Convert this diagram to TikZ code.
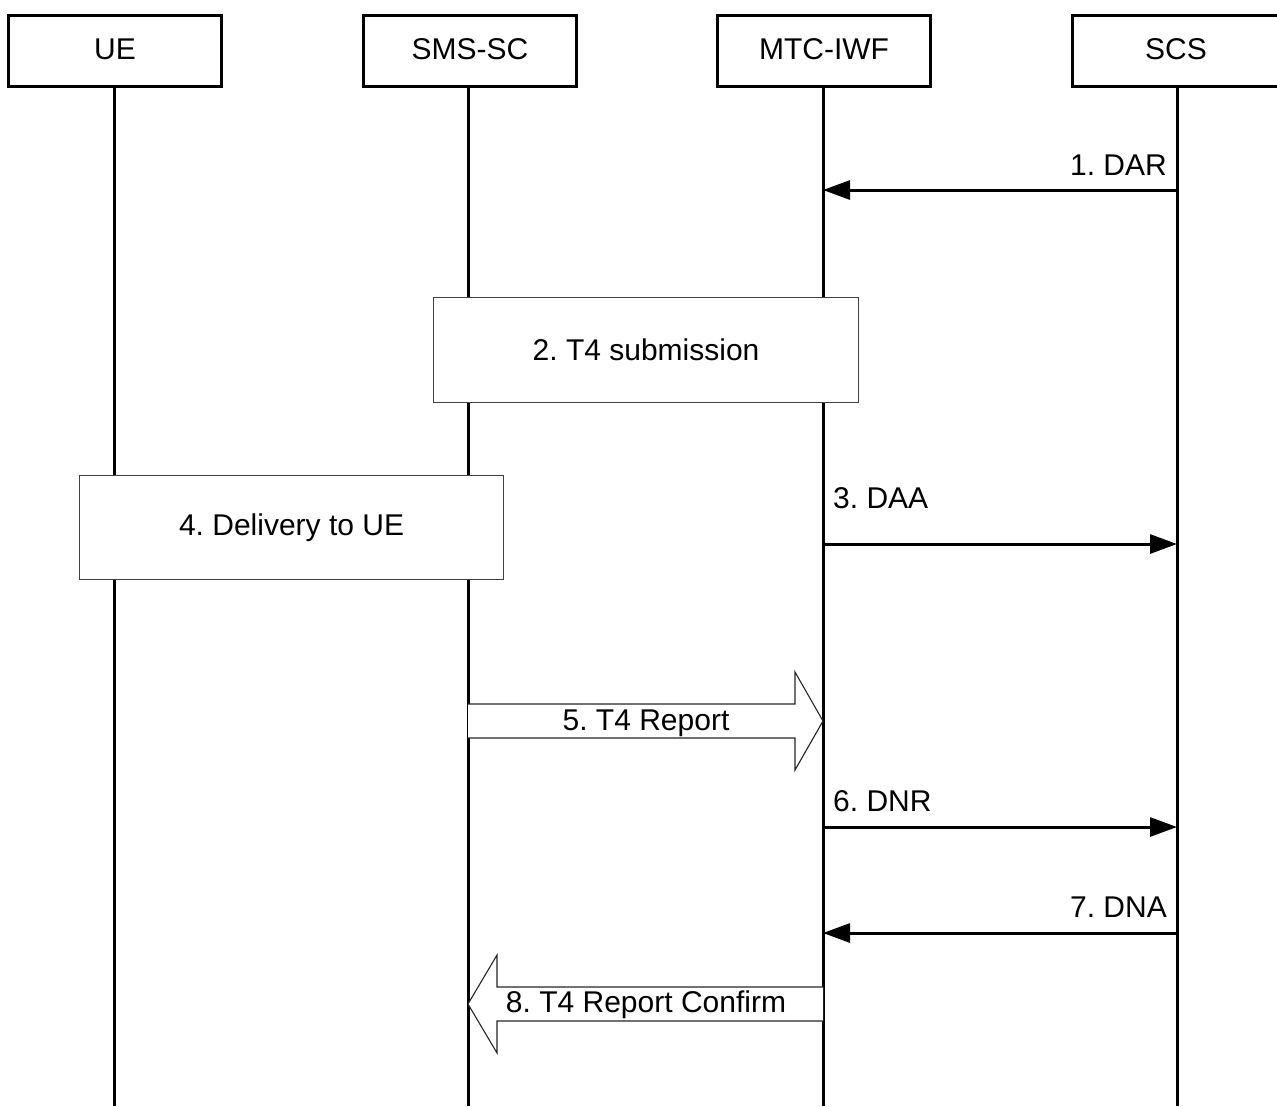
\documentclass[tikz,border=0pt]{standalone}
\usepackage{fontspec}
\setmainfont{Liberation Sans}
\usetikzlibrary{arrows.meta}
\begin{document}
\frenchspacing
\begin{tikzpicture}[x=1pt,y=-1pt,
  every node/.style={font=\fontsize{30}{36}\selectfont, inner sep=0pt},
  header/.style={draw, line width=3pt, minimum width=213pt, minimum height=71pt, anchor=north west, text depth=3pt},
  lifeline/.style={line width=3pt},
  proc/.style={draw=black!75, line width=1.1pt, fill=white, anchor=north west},
  msg/.style={line width=3pt, -{Triangle[length=27pt,width=19pt]}},
  blockarrow/.style={draw=black!85, line width=1.1pt, fill=white, line join=miter}]
\useasboundingbox (0,0) rectangle (1277,1106);
% headers
\node[header] (ue) at (7,14) {UE};
\node[header] (sms) at (362,14) {SMS-SC};
\node[header] (mtc) at (716,14) {MTC-IWF};
\node[header, minimum width=207pt] (scs) at (1071,14) {SCS};
% lifeline bottoms
\coordinate (ueb) at (114,1106);
\coordinate (smsb) at (468,1106);
\coordinate (mtcb) at (823,1106);
\coordinate (scsb) at (1177,1106);
\draw[lifeline] (ue.south -| ueb) -- (ueb);
\draw[lifeline] (sms.south -| smsb) -- (smsb);
\draw[lifeline] (mtc.south -| mtcb) -- (mtcb);
\draw[lifeline] (scs.south -| scsb) -- (scsb);
% message points
\coordinate (m1s) at (1177,190); \coordinate (m1e) at (823,190);
\coordinate (m3s) at (823,544); \coordinate (m3e) at (1177,544);
\coordinate (m6s) at (823,827); \coordinate (m6e) at (1177,827);
\coordinate (m7s) at (1177,933); \coordinate (m7e) at (823,933);
% 1. DAR
\draw[msg] (m1s) -- (m1e);
\node[anchor=base east] (l1) at (1167,175) {1. DAR};
% 2. T4 submission
\node[proc, minimum width=425pt, minimum height=105pt] (p2) at (433,297) {2. T4 submission};
% 3. DAA
\draw[msg] (m3s) -- (m3e);
\node[anchor=base west] (l3) at (833,508) {3. DAA};
% 4. Delivery to UE
\node[proc, minimum width=424pt, minimum height=104pt] (p4) at (79,475) {4. Delivery to UE};
% 5. T4 Report
\coordinate (b5s) at (468,721); \coordinate (b5e) at (823,721);
\draw[blockarrow] (468,704) -- (795,704) -- (795,672) -- (b5e) -- (795,770) -- (795,738) -- (468,738);
\node (l5) at (646,723) {5. T4 Report};
% 6. DNR
\draw[msg] (m6s) -- (m6e);
\node[anchor=base west] (l6) at (833,811) {6. DNR};
% 7. DNA
\draw[msg] (m7s) -- (m7e);
\node[anchor=base east] (l7) at (1167,917) {7. DNA};
% 8. T4 Report Confirm
\coordinate (b8s) at (823,1004); \coordinate (b8e) at (468,1004);
\draw[blockarrow] (823,987) -- (497,987) -- (497,955) -- (b8e) -- (497,1053) -- (497,1021) -- (823,1021);
\node (l8) at (646,1005) {8. T4 Report Confirm};
\end{tikzpicture}
\end{document}
